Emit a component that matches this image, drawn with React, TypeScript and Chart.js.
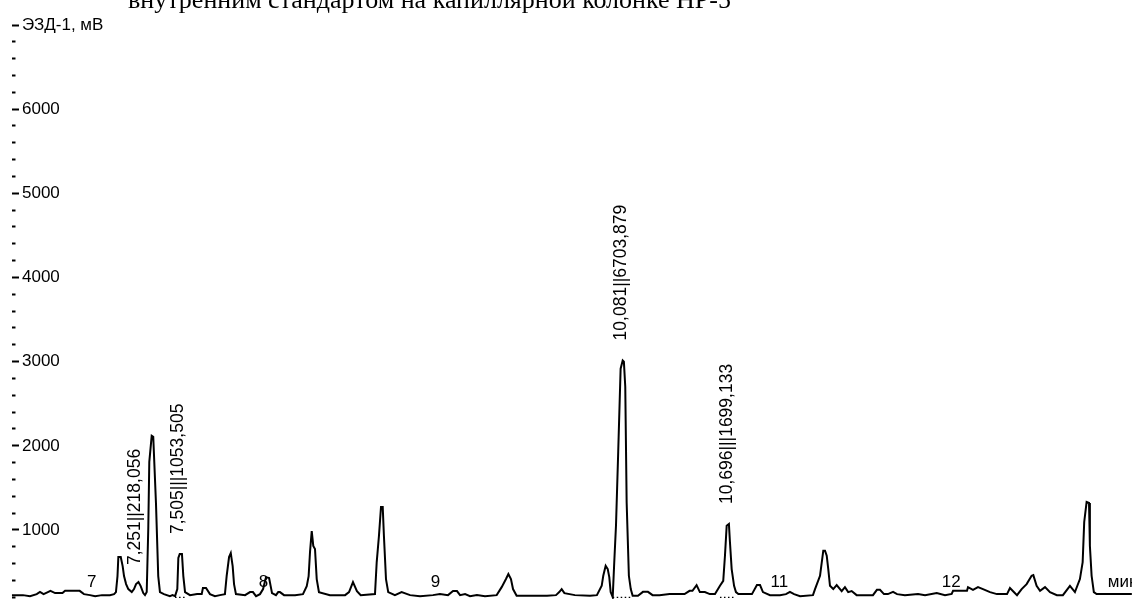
import React, { useEffect, useRef } from "react";
import { Chart, registerables } from "chart.js";

Chart.register(...registerables);

// Retention time (min) and detector signal (mV)
const traceTime: number[] = [
  6.536, 6.6, 6.641, 6.68, 6.699, 6.72, 6.745, 6.76, 6.787, 6.83, 6.845, 6.93, 6.955, 6.99, 7.02, 7.06, 7.106, 7.13,
  7.141, 7.15, 7.155, 7.169, 7.18, 7.188, 7.2, 7.213, 7.233, 7.246, 7.258, 7.272, 7.285, 7.3, 7.31, 7.32,
  7.329, 7.335, 7.349, 7.358, 7.374, 7.387, 7.397, 7.42, 7.455, 7.47, 7.485, 7.498, 7.504, 7.512, 7.525, 7.533,
  7.543, 7.572, 7.613, 7.64, 7.647, 7.665, 7.688, 7.717, 7.746, 7.775, 7.785, 7.799, 7.809, 7.82, 7.828, 7.839,
  7.892, 7.921, 7.938, 7.956, 7.979, 7.997, 8.014, 8.032, 8.049, 8.072, 8.085, 8.095, 8.119, 8.183, 8.229, 8.251,
  8.262, 8.27, 8.28, 8.289, 8.299, 8.309, 8.322, 8.386, 8.474, 8.497, 8.52, 8.543, 8.565, 8.648, 8.658, 8.671,
  8.683, 8.693, 8.7, 8.712, 8.725, 8.764, 8.803, 8.852, 8.91, 8.985, 9.026, 9.073, 9.102, 9.125, 9.143, 9.172,
  9.201, 9.241, 9.288, 9.356, 9.385, 9.41, 9.424, 9.439, 9.451, 9.472, 9.55, 9.649, 9.701, 9.72, 9.734, 9.75,
  9.811, 9.899, 9.939, 9.967, 9.976, 9.99, 10.002, 10.011, 10.019, 10.031, 10.04, 10.05, 10.063, 10.077, 10.089, 10.096,
  10.104, 10.112, 10.125, 10.136, 10.147, 10.178, 10.207, 10.236, 10.263, 10.303, 10.362, 10.449, 10.478, 10.495, 10.519, 10.538,
  10.567, 10.596, 10.626, 10.655, 10.674, 10.684, 10.694, 10.707, 10.713, 10.723, 10.737, 10.748, 10.762, 10.841, 10.87, 10.888,
  10.905, 10.946, 11.004, 11.039, 11.062, 11.086, 11.121, 11.196, 11.208, 11.237, 11.256, 11.266, 11.276, 11.285, 11.295, 11.314,
  11.334, 11.363, 11.382, 11.401, 11.421, 11.45, 11.499, 11.545, 11.568, 11.586, 11.609, 11.632, 11.662, 11.685, 11.731, 11.807,
  11.848, 11.916, 11.964, 12.003, 12.011, 12.052, 12.092, 12.098, 12.127, 12.156, 12.185, 12.226, 12.266, 12.325, 12.342, 12.366,
  12.383, 12.41, 12.439, 12.468, 12.478, 12.497, 12.517, 12.546, 12.575, 12.615, 12.65, 12.691, 12.72, 12.749, 12.765, 12.774,
  12.788, 12.802, 12.807, 12.817, 12.83, 12.846, 12.923, 13.051,
];

const traceSignal: number[] = [
  226, 226, 214, 238, 265, 238, 262, 277, 250, 250, 277, 277, 238, 226, 214, 226, 226, 238,
  262, 452, 679, 679, 571, 452, 357, 298, 262, 298, 357, 381, 333, 250, 226, 262,
  1012, 1810, 2119, 2107, 1310, 452, 262, 238, 214, 226, 214, 298, 667, 714, 714, 452,
  262, 226, 238, 238, 310, 310, 238, 214, 226, 238, 452, 679, 726, 571, 357, 238,
  226, 262, 262, 214, 238, 298, 440, 430, 250, 226, 262, 262, 226, 226, 238, 333,
  452, 738, 988, 810, 774, 417, 262, 226, 226, 262, 381, 274, 226, 238, 619, 929,
  1274, 1274, 929, 417, 262, 226, 262, 226, 214, 226, 238, 226, 274, 274, 226, 238,
  214, 226, 214, 226, 321, 417, 476, 417, 298, 218, 218, 218, 226, 262, 298, 250,
  226, 218, 226, 337, 456, 575, 536, 440, 262, 202, 619, 1051, 1929, 2917, 3015, 3000,
  2702, 1333, 456, 298, 218, 218, 265, 265, 226, 226, 238, 238, 277, 277, 345, 262,
  262, 238, 238, 337, 396, 694, 1051, 1071, 857, 536, 337, 262, 238, 238, 345, 345,
  262, 226, 226, 238, 265, 238, 214, 226, 298, 456, 754, 754, 694, 536, 337, 298,
  345, 274, 321, 262, 274, 226, 226, 226, 289, 289, 238, 238, 265, 238, 226, 240,
  226, 250, 226, 240, 277, 277, 277, 321, 289, 321, 298, 262, 238, 238, 310, 260,
  226, 298, 357, 456, 464, 337, 277, 321, 262, 226, 226, 337, 262, 417, 619, 1095,
  1333, 1321, 813, 456, 262, 238, 238, 238,
];

// Dotted integration baselines under the labelled peaks (null = gap)
const baseMarkTime: number[] = [7.485, 7.543, 7.6, 10.031, 10.136, 10.2, 10.655, 10.737];
const baseMarkSignal: (number | null)[] = [200, 200, null, 200, 200, null, 200, 200];

// Labelled peaks
const peakTimes: number[] = [7.251, 7.505, 10.081, 10.696];
const peakHeights: number[] = [346, 714, 3015, 1071];
const peakLabels: string[] = ["7,251||218,056", "7,505|||1053,505", "10,081||6703,879", "10,696|||1699,133"];

// Axes
const xTickValues: number[] = [7, 8, 9, 10, 11, 12, 13];
const xTickLabels: string[] = ["7", "8", "9", "", "11", "12", "мин"];
const yTickValues: number[] = [
  200, 400, 600, 800, 1000, 1200, 1400, 1600, 1800, 2000, 2200, 2400, 2600, 2800, 3000, 3200, 3400,
  3600, 3800, 4000, 4200, 4400, 4600, 4800, 5000, 5200, 5400, 5600, 5800, 6000, 6200, 6400, 6600, 6800, 7000,
];
const yMajorStep = 1000;
const yAxisTitle = "ЭЗД-1, мВ";
const yTop = 7000;
const yBottom = 180;
const xLeft = 6.577;
const xRight = 13.052;

const titleText = "внутренним стандартом на капиллярной колонке HP-5";

const FONT = "'Liberation Sans', Arial, sans-serif";

const peakLabelPlugin = {
  id: "peakLabels",
  afterDatasetsDraw(chart: any) {
    const { ctx, scales } = chart;
    const xs = scales.x;
    const ys = scales.y;
    ctx.save();
    ctx.fillStyle = "#000";
    ctx.font = `17.5px ${FONT}`;
    ctx.textAlign = "left";
    ctx.textBaseline = "middle";
    peakTimes.forEach((t, i) => {
      const px = xs.getPixelForValue(t);
      const py = ys.getPixelForValue(peakHeights[i]) - 20;
      ctx.save();
      ctx.translate(px, py);
      ctx.rotate(-Math.PI / 2);
      ctx.fillText(peakLabels[i], 0, 0);
      ctx.restore();
    });
    ctx.restore();
  },
};

export default function App() {
  const canvasRef = useRef<HTMLCanvasElement | null>(null);

  useEffect(() => {
    if (!canvasRef.current) return;
    const trace = traceTime.map((t, i) => ({ x: t, y: traceSignal[i] }));
    const marks = baseMarkTime.map((t, i) => ({ x: t, y: baseMarkSignal[i] }));
    const chart = new Chart(canvasRef.current, {
      type: "line",
      data: {
        datasets: [
          {
            data: trace as any,
            borderColor: "#000",
            borderWidth: 2,
            pointRadius: 0,
            tension: 0,
            fill: false,
            clip: { left: 10, top: 0, right: 0, bottom: 2 } as any,
          },
          {
            data: marks as any,
            borderColor: "#000",
            borderWidth: 1.2,
            borderDash: [1.5, 2.5],
            pointRadius: 0,
            spanGaps: false,
            fill: false,
          },
        ],
      },
      options: {
        animation: false,
        responsive: true,
        maintainAspectRatio: false,
        layout: { padding: { left: 12, top: 25, right: 0, bottom: 0 } },
        plugins: {
          legend: { display: false },
          tooltip: { enabled: false },
        },
        scales: {
          x: {
            type: "linear",
            position: "bottom",
            min: xLeft,
            max: xRight,
            grid: { display: false, drawTicks: false },
            border: { display: false },
            afterBuildTicks: (scale: any) => {
              scale.ticks = xTickValues.map((v) => ({ value: v }));
            },
            afterFit: (scale: any) => {
              scale.height = 0;
              scale.paddingLeft = 0;
              scale.paddingRight = 0;
            },
            ticks: {
              autoSkip: false,
              maxRotation: 0,
              minRotation: 0,
              includeBounds: false,
              mirror: true,
              padding: 6,
              color: "#000",
              font: { family: FONT, size: 17 },
              callback: (v: any) => {
                const i = xTickValues.indexOf(Number(v));
                return i >= 0 ? xTickLabels[i] : "";
              },
            },
          },
          y: {
            type: "linear",
            position: "left",
            min: yBottom,
            max: yTop,
            grid: {
              drawOnChartArea: false,
              drawTicks: true,
              tickLength: 7,
              tickWidth: 2,
              tickColor: "#000",
              tickBorderDash: (ctx: any) =>
                ctx.tick && Math.round(ctx.tick.value) % yMajorStep === 0 ? [] : [3.5, 60],
            } as any,
            border: { display: false },
            afterBuildTicks: (scale: any) => {
              scale.ticks = yTickValues.map((v) => ({ value: v }));
            },
            afterFit: (scale: any) => {
              scale.width = 7;
              scale.paddingTop = 0;
              scale.paddingBottom = 0;
            },
            ticks: {
              autoSkip: false,
              includeBounds: false,
              mirror: true,
              padding: 3,
              color: "#000",
              font: { family: FONT, size: 17 },
              callback: (v: any) => {
                const n = Math.round(Number(v));
                if (n === yTop) return yAxisTitle;
                if (n % yMajorStep === 0) return String(n);
                return "";
              },
            },
          },
        },
      },
      plugins: [peakLabelPlugin],
    });
    return () => chart.destroy();
  }, []);

  return (
    <div style={{ position: "fixed", left: 0, top: 0, width: 1132, height: 599, overflow: "hidden", background: "#fff" }}>
      <canvas ref={canvasRef} />
      <div
        style={{
          position: "absolute",
          left: 128,
          top: -13,
          font: "26px 'Liberation Serif', 'Times New Roman', serif",
          lineHeight: "26px",
          whiteSpace: "nowrap",
          color: "#000",
        }}
      >
        {titleText}
      </div>
    </div>
  );
}
